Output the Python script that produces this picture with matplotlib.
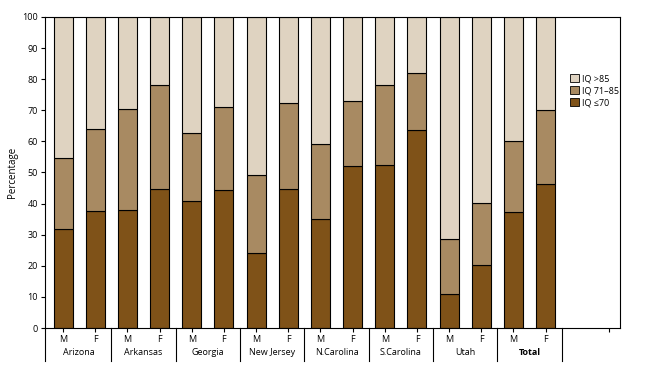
import matplotlib
matplotlib.use("Agg")
import matplotlib.pyplot as plt
import numpy as np
from matplotlib.patches import Patch

states = ["Arizona", "Arkansas", "Georgia", "New Jersey", "N.Carolina", "S.Carolina", "Utah", "Total"]
sexes = ["M", "F"]
# cumulative tops
iq_le70 = [31.8, 37.6, 37.9, 44.7, 40.8, 44.4, 24.1, 44.7, 35.0, 52.2, 52.5, 63.7, 10.9, 20.3, 37.4, 46.4]
iq_le85_cum = [54.7, 64.0, 70.4, 78.1, 62.7, 71.1, 49.2, 72.3, 59.2, 73.0, 78.1, 82.1, 28.6, 40.3, 60.1, 70.2]

iq_71_85 = [b - a for a, b in zip(iq_le70, iq_le85_cum)]
iq_gt85 = [100 - b for b in iq_le85_cum]

c_dark = "#7f5218"
c_mid = "#a88a62"
c_light = "#dfd3c1"

plt.rcParams['font.family'] = ['Open Sans', 'DejaVu Sans']

fig = plt.figure(figsize=(6.49, 3.65), dpi=100)
ax = fig.add_axes([45/649, 1 - 328/365, (620-45)/649, (328-17)/365])

x = np.arange(len(iq_le70))
w = 0.59
ax.bar(x, iq_le70, w, color=c_dark, edgecolor="black", linewidth=0.8, label="IQ \u226470")
ax.bar(x, iq_71_85, w, bottom=iq_le70, color=c_mid, edgecolor="black", linewidth=0.8, label="IQ 71\u201385")
ax.bar(x, iq_gt85, w, bottom=iq_le85_cum, color=c_light, edgecolor="black", linewidth=0.8, label="IQ >85")

ax.set_xlim(-0.56, 17.31)
ax.set_ylim(0, 100)
ax.set_yticks(np.arange(0, 101, 10))
ax.tick_params(axis='y', labelsize=6.5, length=3, width=0.8, pad=2)
ticks = list(x) + [16.97]
ax.set_xticks(ticks)
ax.set_xticklabels(sexes * len(states) + [""], fontsize=6.5)
ax.tick_params(axis='x', length=3, width=0.8, pad=2)
for s in ax.spines.values():
    s.set_linewidth(0.8)
ax.set_ylabel("Percentage", fontsize=7, labelpad=3)

# group separators and labels below the axis
trans = ax.get_xaxis_transform()
seps = [-0.56] + [1.5 + 2*i for i in range(len(states))]
for s in seps:
    ax.plot([s, s], [0, -0.105], transform=trans, color="black", lw=0.8, clip_on=False)
for i, st in enumerate(states):
    ax.text(2*i + 0.5, -0.078, st, transform=trans, ha="center", va="center",
            fontsize=6.5, fontweight="bold" if st == "Total" else "normal")

handles = [Patch(facecolor=c_light, edgecolor="black", linewidth=0.6, label="IQ >85"),
           Patch(facecolor=c_mid, edgecolor="black", linewidth=0.6, label="IQ 71\u201385"),
           Patch(facecolor=c_dark, edgecolor="black", linewidth=0.6, label="IQ \u226470")]
ax.legend(handles=handles, loc="upper left", bbox_to_anchor=(0.905, 0.83), frameon=False,
          fontsize=6.5, handlelength=1.0, handleheight=1.0, handletextpad=0.3,
          labelspacing=0.3, borderpad=0)

fig.savefig("out.png", dpi=100)
